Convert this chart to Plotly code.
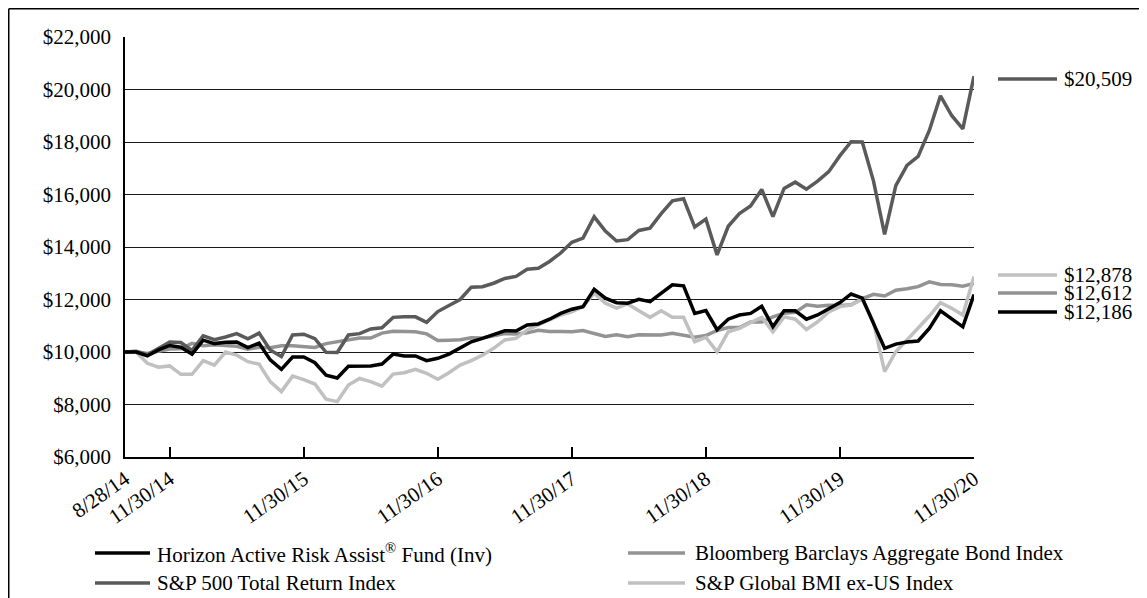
import calendar
import plotly.graph_objects as go

# ---------------- data ----------------
month_ends = []
for yr in range(2014, 2021):
    for mo in range(1, 13):
        if (yr == 2014 and mo < 8) or (yr == 2020 and mo > 11):
            continue
        day = calendar.monthrange(yr, mo)[1]
        month_ends.append(f"{mo}/{day}/{yr % 100:02d}")
dates = ["8/28/14"] + month_ends

tick_labels = ["8/28/14", "11/30/14", "11/30/15", "11/30/16",
               "11/30/17", "11/30/18", "11/30/19", "11/30/20"]

fund = [10000, 10000, 9850, 10080, 10250, 10180, 9920, 10450, 10320, 10370,
        10380, 10170, 10340, 9700, 9340, 9810, 9810, 9590, 9120, 9010,
        9460, 9470, 9470, 9540, 9920, 9850, 9850, 9670, 9760, 9920,
        10140, 10390, 10520, 10650, 10810, 10800, 11030, 11070, 11250, 11470,
        11630, 11730, 12390, 12050, 11880, 11860, 12010, 11920, 12240, 12560,
        12520, 11470, 11580, 10850, 11250, 11410, 11470, 11740, 10960, 11570,
        11570, 11250, 11410, 11630, 11880, 12210, 12050, 11090, 10140, 10300,
        10380, 10420, 10900, 11570, 11280, 10960, 12186]

sp500 = [10000, 10030, 9890, 10130, 10380, 10360, 10060, 10620, 10470, 10570,
         10700, 10500, 10720, 10080, 9830, 10650, 10680, 10510, 9990, 9980,
         10650, 10700, 10880, 10920, 11320, 11340, 11340, 11130, 11540, 11770,
         12000, 12470, 12490, 12620, 12800, 12880, 13150, 13190, 13450, 13770,
         14180, 14340, 15150, 14610, 14230, 14280, 14630, 14720, 15270, 15760,
         15840, 14760, 15060, 13700, 14790, 15270, 15560, 16190, 15160, 16230,
         16470, 16200, 16510, 16870, 17480, 18010, 18000, 16520, 14480, 16340,
         17110, 17450, 18440, 19760, 19010, 18500, 20509]

bond = [10000, 10010, 9940, 10040, 10110, 10120, 10330, 10235, 10280, 10245,
        10220, 10110, 10180, 10165, 10235, 10235, 10210, 10175, 10320, 10390,
        10490, 10530, 10530, 10720, 10790, 10775, 10770, 10690, 10435, 10450,
        10470, 10540, 10535, 10615, 10700, 10690, 10730, 10830, 10780, 10780,
        10770, 10820, 10695, 10590, 10660, 10580, 10655, 10645, 10645, 10715,
        10645, 10560, 10625, 10820, 10935, 10930, 11140, 11140, 11340, 11480,
        11510, 11800, 11740, 11780, 11770, 11800, 12030, 12200, 12135, 12350,
        12410, 12490, 12670, 12570, 12560, 12505, 12612]

bmi = [10000, 10000, 9570, 9420, 9470, 9150, 9150, 9670, 9500, 10000,
       9880, 9630, 9540, 8870, 8490, 9080, 8950, 8780, 8200, 8110,
       8740, 8990, 8870, 8700, 9160, 9210, 9340, 9190, 8960, 9210,
       9500, 9670, 9880, 10140, 10460, 10520, 10840, 11030, 11220, 11410,
       11530, 11730, 12240, 11860, 11670, 11830, 11570, 11320, 11570, 11320,
       11320, 10390, 10560, 10010, 10770, 10900, 11120, 11320, 10770, 11340,
       11250, 10860, 11150, 11530, 11730, 11790, 12010, 11150, 9250, 10010,
       10460, 10900, 11370, 11880, 11670, 11410, 12878]

names = ["Horizon Active Risk Assist<sup>\u00ae</sup> Fund (Inv)",
         "Bloomberg Barclays Aggregate Bond Index",
         "S&amp;P 500 Total Return Index",
         "S&amp;P Global BMI ex-US Index"]

# ---------------- style ----------------
FONT = "Liberation Serif"
C_FUND = "#000000"
C_BOND = "#939393"
C_SP = "#5a5a5a"
C_BMI = "#c0c0c0"
LW = 3.5

# the page adds an 8px body margin; figure is sized to fill the rest
OFF = 8
W, H = 1139, 590
L, R, T, B = 117, 173, 29, 141
PW, PH = W - L - R, H - T - B


def px_x(page_px):
    return (page_px - OFF - L) / PW


def px_y(page_py):
    return (H - B - (page_py - OFF)) / PH


fig = go.Figure()
for vals, col, nm in [(bond, C_BOND, names[1]), (bmi, C_BMI, names[3]),
                      (sp500, C_SP, names[2]), (fund, C_FUND, names[0])]:
    fig.add_trace(go.Scatter(x=dates, y=vals, mode="lines", name=nm,
                             line=dict(color=col, width=LW),
                             showlegend=False, hoverinfo="skip"))

shapes = []
annotations = []

# end labels
end_items = [(sp500, C_SP, 79), (bmi, C_BMI, 275), (bond, C_BOND, 293), (fund, C_FUND, 312)]
for vals, col, ypx in end_items:
    shapes.append(dict(type="line", xref="paper", yref="paper",
                       x0=px_x(998), x1=px_x(1057), y0=px_y(ypx), y1=px_y(ypx),
                       line=dict(color=col, width=LW)))
    annotations.append(dict(xref="paper", yref="paper", x=px_x(1062), y=px_y(ypx),
                            xanchor="left", yanchor="middle", showarrow=False,
                            text=f"${vals[-1]:,.0f}",
                            font=dict(family=FONT, size=21, color="black")))

# legend (manual)
leg_items = [(C_FUND, names[0], 95, 150, 155, 553),
             (C_BOND, names[1], 628, 685, 693, 553),
             (C_SP, names[2], 95, 150, 155, 583),
             (C_BMI, names[3], 628, 685, 693, 583)]
for col, nm, lx0, lx1, tx, ypx in leg_items:
    shapes.append(dict(type="line", xref="paper", yref="paper",
                       x0=px_x(lx0), x1=px_x(lx1), y0=px_y(ypx), y1=px_y(ypx),
                       line=dict(color=col, width=LW)))
    annotations.append(dict(xref="paper", yref="paper", x=px_x(tx), y=px_y(ypx),
                            xanchor="left", yanchor="middle", showarrow=False,
                            text=nm,
                            font=dict(family=FONT, size=21, color="black")))

# outer frame
frame = dict(color="black", width=1.5)
shapes.append(dict(type="line", xref="paper", yref="paper",
                   x0=px_x(8.75), x1=px_x(1150), y0=px_y(8.75), y1=px_y(8.75), line=frame))
shapes.append(dict(type="line", xref="paper", yref="paper",
                   x0=px_x(8.75), x1=px_x(8.75), y0=px_y(8.75), y1=px_y(600), line=frame))
shapes.append(dict(type="line", xref="paper", yref="paper",
                   x0=px_x(1140), x1=px_x(1140), y0=px_y(540), y1=px_y(600), line=frame))

fig.update_layout(
    width=W, height=H, autosize=False,
    margin=dict(l=L, r=R, t=T, b=B, pad=0),
    paper_bgcolor="white", plot_bgcolor="white",
    font=dict(family=FONT, size=20, color="black"),
    shapes=shapes, annotations=annotations,
    showlegend=False,
)
fig.update_xaxes(type="category", range=[0, len(dates) - 1],
                 tickmode="array", tickvals=tick_labels, ticktext=tick_labels,
                 ticks="inside", ticklen=10, tickwidth=1.5, tickcolor="black",
                 tickangle=-35, showgrid=False, showline=True,
                 linecolor="black", linewidth=1.5,
                 tickfont=dict(family=FONT, size=21, color="black"))
fig.update_yaxes(range=[6000, 22000], dtick=2000, tick0=6000,
                 tickprefix="$", tickformat=",", ticks="",
                 showgrid=True, gridcolor="#1a1a1a", gridwidth=1.2,
                 showline=True, linecolor="black", linewidth=1.5,
                 zeroline=False, ticklabelstandoff=8,
                 tickfont=dict(family=FONT, size=21, color="black"))

fig.write_html("out.html")
